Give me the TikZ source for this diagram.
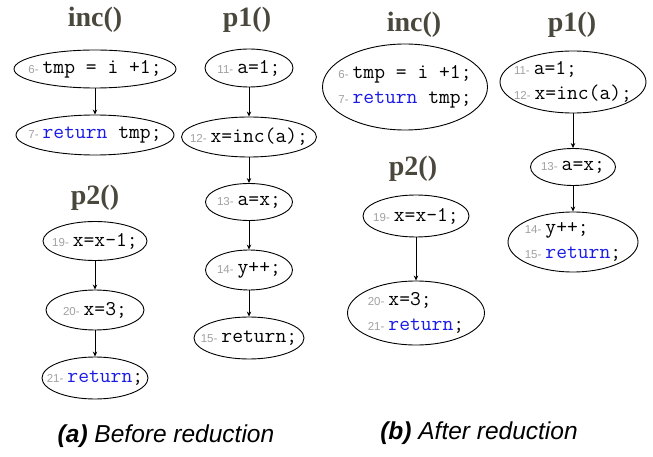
\documentclass[tikz,border=0pt]{standalone}
\usepackage{fontspec}
\setmainfont{Liberation Serif}
\setsansfont{Liberation Sans}
\usepackage{tikz}
\usetikzlibrary{arrows.meta, positioning, shapes.geometric}
\definecolor{titlegray}{HTML}{4A473C}
\definecolor{kwblue}{HTML}{1A1AE6}
\definecolor{lngray}{HTML}{A0A0A0}
\newcommand{\lno}[1]{{\sffamily\fontsize{11.5}{12}\selectfont\color{lngray}#1-}\hspace{4pt}}
\newcommand{\kw}[1]{{\color{kwblue}#1}}

\begin{document}
\begin{tikzpicture}[x=1pt, y=-1pt,
  stmt/.style={ellipse, draw, line width=0.9pt, inner sep=0pt},
  code/.style={font=\ttfamily\fontsize{21}{25}\selectfont, align=left, inner sep=0pt},
  title/.style={font=\bfseries\fontsize{28}{30}\selectfont, titlegray},
  caption/.style={font=\sffamily\itshape\fontsize{24.5}{27}\selectfont},
  arr/.style={-{Stealth[length=5pt, width=4.5pt]}, line width=0.8pt}
]
  \useasboundingbox (0,0) rectangle (653,457);

  % (a) Before reduction: inc()
  \node[title] (aincT) at (95,20) {inc()};
  \node[stmt, minimum width=162pt, minimum height=38pt,
        label={[code]center:{\lno{6}tmp = i +1;}}] (a6) at (95,69) {};
  \node[stmt, minimum width=158pt, minimum height=40pt,
        label={[code]center:{\lno{7}\kw{return} tmp;}}] (a7) at (95,135) {};
  \draw[arr] (a6) -- (a7);

  % (a) p2()
  \node[title] (ap2T) at (95,198) {p2()};
  \node[stmt, minimum width=104pt, minimum height=39pt,
        label={[code]center:{\lno{19}x=x-1;}}] (a19) at (95,241) {};
  \node[stmt, minimum width=98pt, minimum height=40pt,
        label={[code]center:{\lno{20}x=3;}}] (a20) at (95,310) {};
  \node[stmt, minimum width=106pt, minimum height=42pt,
        label={[code]center:{\lno{21}\kw{return};}}] (a21) at (95,378) {};
  \draw[arr] (a19) -- (a20);
  \draw[arr] (a20) -- (a21);

  % (a) p1()
  \node[title] (ap1T) at (247,20) {p1()};
  \node[stmt, minimum width=88pt, minimum height=38pt,
        label={[code]center:{\lno{11}a=1;}}] (a11) at (249,68) {};
  \node[stmt, minimum width=135pt, minimum height=40pt,
        label={[code]center:{\lno{12}x=inc(a);}}] (a12) at (249,137) {};
  \node[stmt, minimum width=87pt, minimum height=37pt,
        label={[code]center:{\lno{13}a=x;}}] (a13) at (249,202) {};
  \node[stmt, minimum width=87pt, minimum height=40pt,
        label={[code]center:{\lno{14}y++;}}] (a14) at (249,270) {};
  \node[stmt, minimum width=110pt, minimum height=42pt,
        label={[code]center:{\lno{15}return;}}] (a15) at (249,338) {};
  \draw[arr] (a11) -- (a12);
  \draw[arr] (a12) -- (a13);
  \draw[arr] (a13) -- (a14);
  \draw[arr] (a14) -- (a15);

  % (b) After reduction: inc()
  \node[title] (bincT) at (414,25) {inc()};
  \node[stmt, minimum width=165pt, minimum height=86pt,
        label={[code]center:{\lno{6}tmp = i +1;\\\lno{7}\kw{return} tmp;}}] (b67) at (405,87) {};

  % (b) p2()
  \node[title] (bp2T) at (413,169) {p2()};
  \node[stmt, minimum width=106pt, minimum height=42pt,
        label={[code]center:{\lno{19}x=x-1;}}] (b19) at (416,216) {};
  \node[stmt, minimum width=137pt, minimum height=64pt,
        label={[code]center:{\lno{20}x=3;\\\lno{21}\kw{return};}}] (b2021) at (416,313) {};
  \draw[arr] (b19) -- (b2021);

  % (b) p1()
  \node[title] (bp1T) at (572,25) {p1()};
  \node[stmt, minimum width=146pt, minimum height=62pt,
        label={[code]center:{\lno{11}a=1;\\\lno{12}x=inc(a);}}] (b1112) at (573,82) {};
  \node[stmt, minimum width=85pt, minimum height=37pt,
        label={[code]center:{\lno{13}a=x;}}] (b13) at (573,167) {};
  \node[stmt, minimum width=130pt, minimum height=60pt,
        label={[code]center:{\lno{14}y++;\\\lno{15}\kw{return};}}] (b1415) at (573,242) {};
  \draw[arr] (b1112) -- (b13);
  \draw[arr] (b13) -- (b1415);

  % captions
  \node[caption] (capA) at (166,436) {\textbf{(a)} Before reduction};
  \node[caption] (capB) at (479,433) {\textbf{(b)} After reduction};
\end{tikzpicture}
\end{document}
